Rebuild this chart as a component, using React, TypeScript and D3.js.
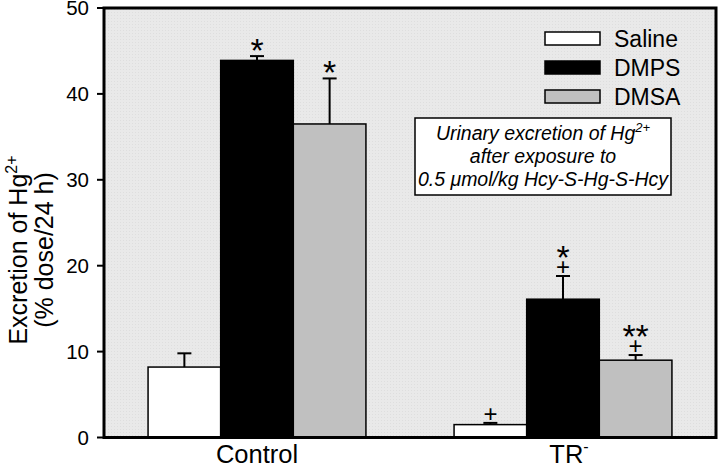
import React from "react";
import * as d3 from "d3";

const groups = ["Control", "TR"];
const series = ["Saline", "DMPS", "DMSA"];
const meanControl = [8.2, 43.9, 36.5];
const errControl = [1.6, 0.5, 5.3];
const meanTR = [1.5, 16.1, 9.0];
const errTR = [0.2, 2.7, 0.6];
const markControl = [[], ["*"], ["*"]];
const markTR = [["+"], ["+", "*"], ["+", "**"]];
const yTicks = [0, 10, 20, 30, 40, 50];
const fills = ["#ffffff", "#000000", "#c0c0c0"];

const W = 720, H = 467;
const L = 104, R = 716, T = 8, B = 437.5;
const FONT = "Liberation Sans, Arial, Helvetica, sans-serif";

const STAR_FS = 34, PLUS_FS = 24;

export default function App() {
  const y = d3.scaleLinear().domain([0, 50]).range([B, T]);
  const x0 = d3.scaleBand().domain(groups).range([L, R]).padding(0);
  const gw = x0.bandwidth() * 0.712;
  const x1 = d3.scaleBand().domain(series).range([-gw / 2, gw / 2]).padding(0);
  const data = [
    { g: "Control", means: meanControl, errs: errControl, marks: markControl },
    { g: "TR", means: meanTR, errs: errTR, marks: markTR },
  ];
  return (
    <svg width={W} height={H} style={{ position: "absolute", left: 0, top: 0 }} fontFamily={FONT}>
      <defs>
        <pattern id="bgp" width="3" height="3" patternUnits="userSpaceOnUse">
          <rect width="3" height="3" fill="#e9e9e9" />
          <rect width="1" height="1" fill="#dedede" />
        </pattern>
      </defs>
      <rect x={L} y={T} width={R - L} height={B - T} fill="url(#bgp)" />
      {data.map((d) => {
        const cx = (x0(d.g) as number) + x0.bandwidth() / 2;
        return (
          <g key={d.g} transform={`translate(${cx},0)`}>
            {series.map((s, i) => {
              const bx = x1(s) as number;
              const bw = x1.bandwidth();
              const mx = bx + bw / 2;
              const top = y(d.means[i] + d.errs[i]);
              const marks = d.marks[i];
              let bottom = top - 4;
              const spans = marks.map((m, k) => {
                const isPlus = m === "+";
                let baseline: number;
                if (isPlus) {
                  baseline = bottom + 0.117 * PLUS_FS;
                  bottom = baseline - 0.59 * PLUS_FS - 1.5;
                } else {
                  baseline = bottom + 0.28 * STAR_FS;
                  bottom = baseline - 0.66 * STAR_FS - 1.5;
                }
                return (
                  <tspan key={k} x={mx} y={baseline} fontSize={isPlus ? PLUS_FS : STAR_FS}>
                    {m}
                  </tspan>
                );
              });
              return (
                <g key={s}>
                  <rect x={bx} y={y(d.means[i])} width={bw} height={B - y(d.means[i])} fill={fills[i]} stroke="#000" strokeWidth={1.5} />
                  <line x1={mx} x2={mx} y1={y(d.means[i])} y2={top} stroke="#000" strokeWidth={2} />
                  <line x1={mx - 7} x2={mx + 7} y1={top} y2={top} stroke="#000" strokeWidth={2} />
                  {spans.length > 0 && (
                    <text textAnchor="middle" fill="#000">{spans}</text>
                  )}
                </g>
              );
            })}
          </g>
        );
      })}
      <rect x={L} y={T} width={R - L} height={B - T} fill="none" stroke="#000" strokeWidth={3} />
      {yTicks.map((t) => (
        <g key={t}>
          <line x1={L - 7} x2={L} y1={y(t)} y2={y(t)} stroke="#000" strokeWidth={2} />
          <text x={L - 15} y={y(t)} dy="0.35em" textAnchor="end" fontSize={20.5}>{t}</text>
        </g>
      ))}
      <text x={x0("Control")! + x0.bandwidth() / 2} y={463} textAnchor="middle" fontSize={25.5}>Control</text>
      <text x={x0("TR")! + x0.bandwidth() / 2 + 6} y={463} textAnchor="middle" fontSize={25.5}>
        TR<tspan fontSize={16} dy={-11}>-</tspan>
      </text>
      <g transform="translate(27,250) rotate(-90)">
        <text textAnchor="middle" fontSize={25}>
          Excretion of Hg<tspan fontSize={16} dy={-10}>2+</tspan>
        </text>
      </g>
      <g transform="translate(53,250) rotate(-90)">
        <text textAnchor="middle" fontSize={25}>(% dose/24 h)</text>
      </g>
      {series.map((s, i) => (
        <g key={s}>
          <rect x={545} y={32 + i * 29} width={55} height={13} fill={fills[i]} stroke="#000" strokeWidth={1.5} />
          <text x={614} y={38.5 + i * 29} dy="0.36em" fontSize={23}>{s}</text>
        </g>
      ))}
      <rect x={415} y={118} width={256} height={77} fill="#fff" stroke="#000" strokeWidth={1.5} />
      <g fontStyle="italic" fontSize={19.5} textAnchor="middle">
        <text x={543} y={140}>Urinary excretion of Hg<tspan fontSize={13} dy={-8}>2+</tspan></text>
        <text x={543} y={163}>after exposure to</text>
        <text x={543} y={186}>0.5 μmol/kg Hcy-S-Hg-S-Hcy</text>
      </g>
    </svg>
  );
}
